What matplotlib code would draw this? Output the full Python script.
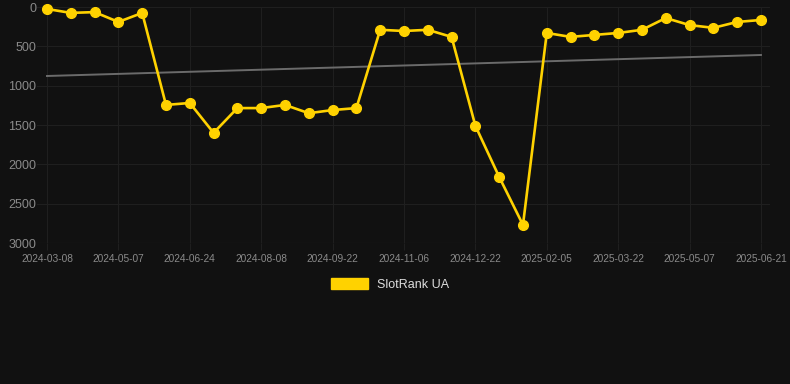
import matplotlib
matplotlib.use('Agg')
import matplotlib.pyplot as plt
from matplotlib.patches import Patch

plt.rcParams['font.family'] = ['Liberation Sans', 'DejaVu Sans']

# rank per sample (31 samples, a label every third one)
ranks = [25, 75, 65, 190, 75, 1245, 1220, 1600, 1285, 1285, 1245,
         1350, 1310, 1285, 290, 305, 290, 380, 1510, 2160, 2770,
         330, 380, 355, 330, 290, 140, 230, 265, 190, 165]
tick_labels = ['2024-03-08', '2024-05-07', '2024-06-24', '2024-08-08',
               '2024-09-22', '2024-11-06', '2024-12-22', '2025-02-05',
               '2025-03-22', '2025-05-07', '2025-06-21']
trend_ends = [877, 610]
series_name = 'SlotRank UA'

bg = '#111111'
gold = '#FFD200'
grid_c = '#1f1f1f'
label_c = '#8a8a8a'

fig = plt.figure(figsize=(7.9, 3.84), dpi=100, facecolor=bg)
ax = fig.add_axes([37 / 790, 1 - 243 / 384, 733 / 790, 236 / 384])
ax.set_facecolor(bg)

x = list(range(len(ranks)))
ax.plot([x[0], x[-1]], trend_ends, color='#6b6b6b', linewidth=1.4, zorder=2)
ax.plot(x, ranks, color=gold, linewidth=1.9, marker='o', markersize=7,
        markerfacecolor=gold, markeredgecolor=gold, clip_on=False, zorder=3)

ax.set_xlim(-0.42, 30.38)
ax.set_ylim(3000, 0)
ax.set_yticks(range(0, 3001, 500))
ax.set_xticks(x[::3])
ax.set_xticklabels(tick_labels)

ax.grid(True, color=grid_c, linewidth=0.8)
ax.set_axisbelow(True)
for s in ax.spines.values():
    s.set_visible(False)
ax.tick_params(axis='y', length=0, labelsize=9, colors=label_c, pad=0.5)
ax.tick_params(axis='x', length=5, width=0.8, color=grid_c, labelsize=7.3,
               labelcolor=label_c, pad=3)
ax.axhline(3000, color='#282828', linewidth=0.8)

handle = Patch(facecolor=gold, edgecolor=gold)
leg = fig.legend([handle], [series_name], loc='center', bbox_to_anchor=(390 / 790, 1 - 284.5 / 384),
                 frameon=False, fontsize=9, handlelength=3.0, handleheight=0.9,
                 handletextpad=0.7)
for t in leg.get_texts():
    t.set_color('#dddddd')

fig.savefig('out.png', dpi=100, facecolor=bg)
